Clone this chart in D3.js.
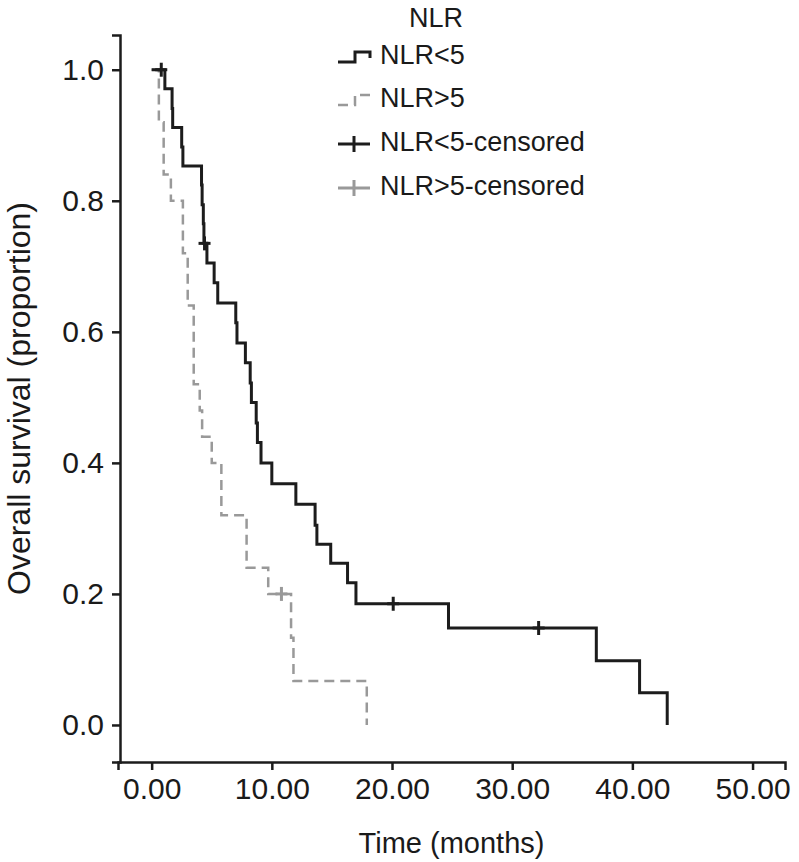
<!DOCTYPE html>
<html>
<head>
    <title>Overall survival by NLR</title>
    <script src="https://d3js.org/d3.v7.min.js"></script>
    <style>
        body { margin: 0; background: #fff; }
        text { font-family: "Liberation Sans", Arial, Helvetica, sans-serif; fill: #1a1a1a; }
    </style>
</head>
<body>
    <div id="chart"></div>
    <script>
// Kaplan-Meier steps (time in months, survival after the event)
const lowTimes = [0, 1.1, 1.7, 1.75, 2.5, 2.6, 4.15, 4.2, 4.3, 4.35, 4.6, 5.2, 5.5, 7.0, 7.1, 7.8, 8.2, 8.3, 8.7, 8.8, 9.1, 10.0, 12.0, 13.6, 13.75, 14.9, 16.3, 17.0, 24.7, 37.0, 40.6, 42.9];
const lowSurv  = [1.0, 0.971, 0.941, 0.912, 0.882, 0.853, 0.824, 0.794, 0.765, 0.735, 0.705, 0.675, 0.644, 0.614, 0.583, 0.553, 0.522, 0.492, 0.461, 0.431, 0.400, 0.368, 0.337, 0.305, 0.276, 0.247, 0.217, 0.185, 0.148, 0.098, 0.049, 0.0];
const lowCensorTimes = [0.8, 4.4, 20.1, 32.2];
const lowCensorSurv  = [1.0, 0.735, 0.185, 0.148];

const highTimes = [0, 0.6, 1.0, 1.6, 2.6, 3.0, 3.5, 4.0, 4.2, 5.0, 5.8, 7.9, 9.7, 11.6, 11.8, 17.9];
const highSurv  = [1.0, 0.92, 0.84, 0.80, 0.72, 0.64, 0.52, 0.48, 0.44, 0.40, 0.32, 0.24, 0.20, 0.133, 0.067, 0.0];
const highCensorTimes = [10.8];
const highCensorSurv  = [0.20];

const xTicks = [0, 10, 20, 30, 40, 50];
const yTicks = [0, 0.2, 0.4, 0.6, 0.8, 1.0];
const legendLabels = ["NLR<5", "NLR>5", "NLR<5-censored", "NLR>5-censored"];

const W = 799, H = 862;
const black = "#1c1c1c", grey = "#999999";

const svg = d3.select("#chart").append("svg").attr("width", W).attr("height", H);

const x = d3.scaleLinear().domain([-2.8, 52.7]).range([118, 785]);
const y = d3.scaleLinear().domain([-0.0565, 1.053]).range([762, 35]);

// axes
const xAxis = svg.append("g").attr("transform", "translate(0,762)")
    .call(d3.axisBottom(x).tickValues(xTicks).tickFormat(d3.format(".2f")).tickSizeOuter(0).tickSize(8).tickPadding(8));
const yAxis = svg.append("g").attr("transform", "translate(120,0)")
    .call(d3.axisLeft(y).tickValues(yTicks).tickFormat(d3.format(".1f")).tickSizeOuter(0).tickSize(8).tickPadding(8));
[xAxis, yAxis].forEach(a => {
    a.select(".domain").attr("stroke", black).attr("stroke-width", 2.5);
    a.selectAll(".tick line").attr("stroke", black).attr("stroke-width", 2.5);
    a.selectAll(".tick text").attr("font-size", 30).attr("fill", "#222");
});

svg.append("text").attr("x", (118 + 785) / 2).attr("y", 845).attr("text-anchor", "middle")
    .attr("dominant-baseline", "middle").attr("font-size", 29).text("Time (months)");
svg.append("text").attr("transform", `translate(22,${(35 + 762) / 2}) rotate(-90)`)
    .attr("text-anchor", "middle").attr("dominant-baseline", "middle")
    .attr("font-size", 32).text("Overall survival (proportion)");

// survival curves
const toPts = (ts, ss) => ts.map((t, i) => [t, ss[i]]);
const line = d3.line().x(d => x(d[0])).y(d => y(d[1])).curve(d3.curveStepAfter);

svg.append("path").datum(toPts(highTimes, highSurv)).attr("d", line)
    .attr("fill", "none").attr("stroke", grey).attr("stroke-width", 2.5).attr("stroke-dasharray", "10,6");
svg.append("path").datum(toPts(lowTimes, lowSurv)).attr("d", line)
    .attr("fill", "none").attr("stroke", black).attr("stroke-width", 3);

const censor = (ts, ss, color) => {
    const g = svg.append("g").attr("stroke", color).attr("stroke-width", 3);
    toPts(ts, ss).forEach(d => {
        g.append("line").attr("x1", x(d[0])).attr("x2", x(d[0])).attr("y1", y(d[1]) - 7).attr("y2", y(d[1]) + 7);
        g.append("line").attr("x1", x(d[0]) - 6).attr("x2", x(d[0]) + 6).attr("y1", y(d[1])).attr("y2", y(d[1]));
    });
};
censor(highCensorTimes, highCensorSurv, grey);
censor(lowCensorTimes, lowCensorSurv, black);

// legend
const leg = svg.append("g");
leg.append("text").attr("x", 436).attr("y", 20).attr("text-anchor", "middle")
    .attr("dominant-baseline", "middle").attr("font-size", 27).text("NLR");
const rows = [57, 100, 144, 188];
legendLabels.forEach((lab, i) => {
    const r = rows[i];
    const col = i % 2 === 0 ? black : grey;
    if (i < 2) {
        leg.append("path").attr("d", `M338,${r + 5}H355V${r - 5}H370V${r + 1}`)
            .attr("fill", "none").attr("stroke", col).attr("stroke-width", i === 0 ? 3 : 2.5)
            .attr("stroke-dasharray", i === 1 ? "10,6" : null);
    } else {
        leg.append("path").attr("d", `M338,${r}H370M354,${r - 8}V${r + 8}`)
            .attr("fill", "none").attr("stroke", col).attr("stroke-width", 3);
    }
    leg.append("text").attr("x", 380).attr("y", r).attr("dominant-baseline", "middle")
        .attr("font-size", 27).text(lab);
});
    </script>
</body>
</html>
